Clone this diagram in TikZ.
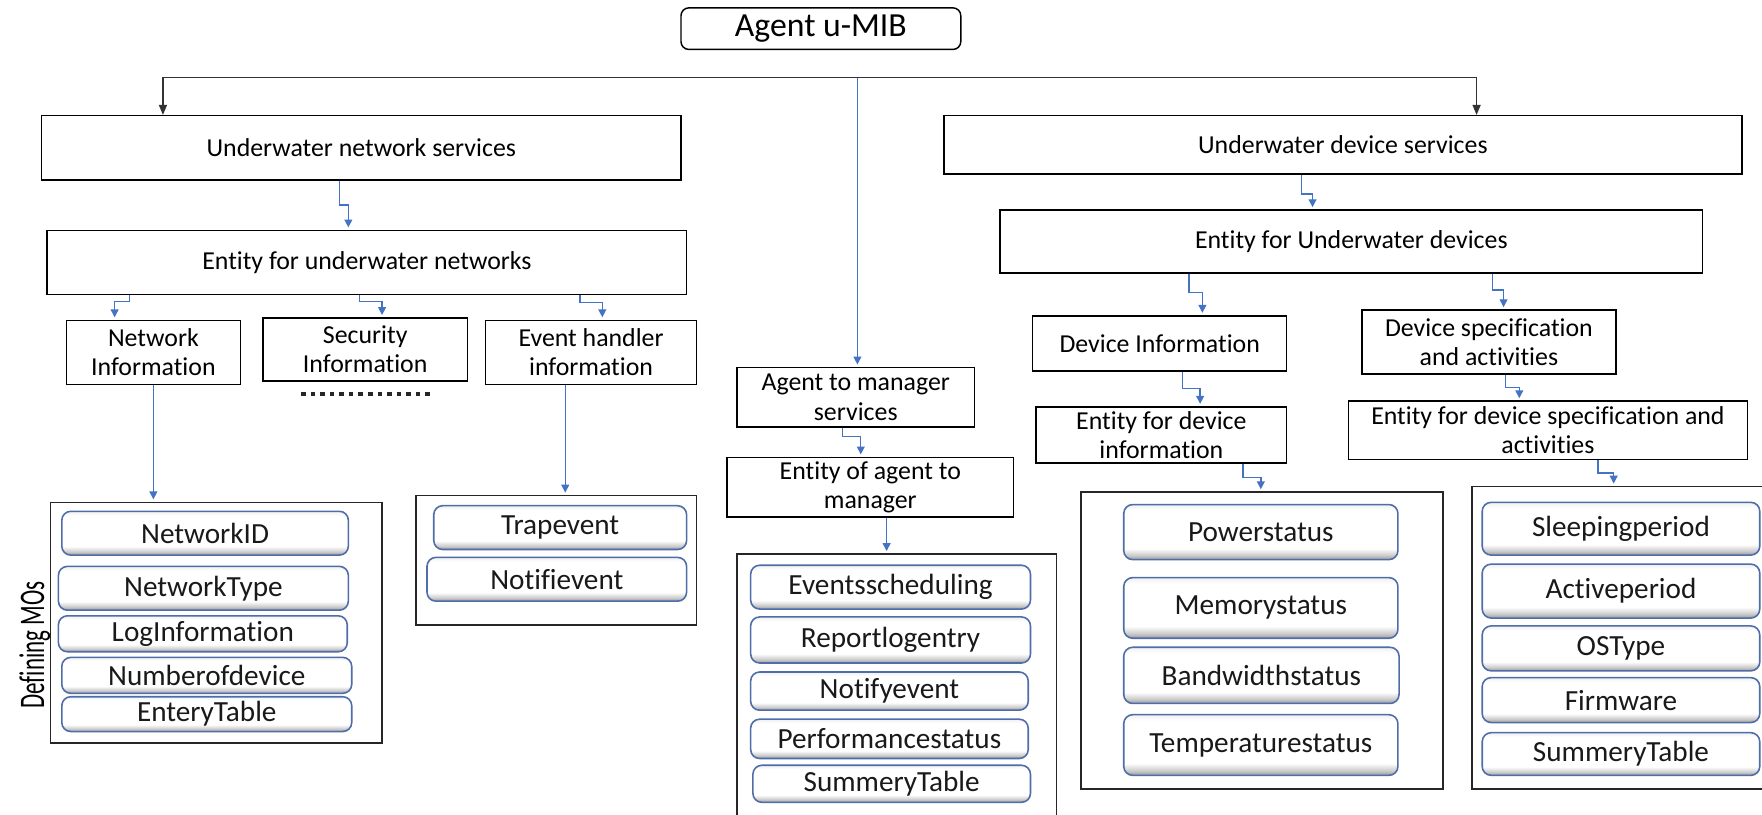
\documentclass[tikz,border=0pt]{standalone}
\usepackage{fontspec}
\setmainfont{Carlito}[Ligatures=NoCommon]
\usetikzlibrary{arrows.meta,calc}
\definecolor{lblue}{HTML}{4472C4}
\definecolor{iborder}{HTML}{4F6DA8}
\pgfdeclareverticalshading{itemshade}{100bp}{color(0bp)=(gray!80); color(25bp)=(gray!80); color(29bp)=(gray!40); color(35bp)=(white); color(70bp)=(white); color(75bp)=(gray!12); color(100bp)=(gray!12)}
\newcommand\mkbox[7]{\node[#6, minimum width={(#4)-(#2)}, minimum height={(#5)-(#3)}] (#1) at ({((#2)+(#4))/2},{((#3)+(#5))/2}) {#7};}
\begin{document}
\begin{tikzpicture}[x=1pt,y=-1pt,
 box/.style={draw=black, line width=1.3pt, inner sep=0pt, align=center, font=\fontsize{23}{26}\selectfont},
 titlebox/.style={box, rounded corners=7pt, font=\fontsize{30}{34}\selectfont},
 cont/.style={draw=black!85, line width=1.3pt, inner sep=0pt},
 item/.style={draw=iborder, line width=1.4pt, rounded corners=8pt, inner sep=0pt, shade, shading=itemshade, text=black!90, font=\fontsize{26}{30}\selectfont},
 barrow/.style={draw=lblue, line width=1.2pt, -{Triangle[width=7pt,length=7pt]}, shorten >=2pt},
 karrow/.style={draw=black!80, line width=1.6pt, -{Triangle[width=7pt,length=9pt]}},
 elbow/.style={to path={|- ($(\tikztostart)!#1!(\tikztotarget)$) -| (\tikztotarget) \tikztonodes}},
 elbow/.default=0.5]
\fill[white] (0,0) rectangle (1568,725);
\useasboundingbox (0,0) rectangle (1568,725);

% main boxes
\mkbox{title}{606}{7}{855}{44}{titlebox}{Agent u-MIB}
\mkbox{uns}{37}{103}{606}{160}{box}{Underwater network services}
\mkbox{eun}{42}{205}{611}{262}{box}{Entity for underwater networks}
\mkbox{ni}{59}{285}{214}{342}{box}{Network\\Information}
\mkbox{si}{234}{283}{416}{339}{box}{Security\\Information}
\mkbox{ehi}{432}{285}{620}{342}{box}{Event handler\\information}
\mkbox{lc}{45}{447}{340}{661}{cont}{}
\mkbox{ec}{370}{441}{620}{556}{cont}{}
\mkbox{atm}{656}{327}{867}{380}{box}{Agent to manager\\services}
\mkbox{eatm}{647}{407}{902}{460}{box}{Entity of agent to\\manager}
\mkbox{mc}{656}{493}{940}{740}{cont}{}
\mkbox{uds}{840}{103}{1550}{155}{box}{Underwater device services}
\mkbox{eud}{890}{187}{1515}{243}{box}{Entity for Underwater devices}
\mkbox{di}{919}{281}{1145}{330}{box}{Device Information}
\mkbox{dsa}{1212}{276}{1438}{333}{box}{Device specification\\and activities}
\mkbox{edi}{922}{362}{1145}{412}{box}{Entity for device\\information}
\mkbox{edsa}{1200}{357}{1555}{409}{box}{Entity for device specification and\\activities}
\mkbox{dc}{962}{438}{1284}{702}{cont}{}
\mkbox{sc}{1310}{433}{1590}{702}{cont}{}

% items
\mkbox{i1}{55}{455}{310}{494}{item}{NetworkID}
\mkbox{i2}{52}{504}{310}{543}{item}{NetworkType}
\mkbox{i3}{52}{548}{309}{580}{item}{LogInformation}
\mkbox{i4}{55}{585}{313}{617}{item}{Numberofdevice}
\mkbox{i5}{55}{620}{313}{651}{item}{EnteryTable}
\mkbox{i6}{386}{450}{611}{489}{item}{Trapevent}
\mkbox{i7}{380}{496}{611}{535}{item}{Notifievent}
\mkbox{i8}{668}{503}{917}{542}{item}{Eventsscheduling}
\mkbox{i9}{668}{549}{917}{590}{item}{Reportlogentry}
\mkbox{i10}{668}{598}{915}{632}{item}{Notifyevent}
\mkbox{i11}{668}{640}{915}{675}{item}{Performancestatus}
\mkbox{i12}{670}{681}{917}{714}{item}{SummeryTable}
\mkbox{i13}{1000}{449}{1244}{498}{item}{Powerstatus}
\mkbox{i14}{1000}{514}{1244}{568}{item}{Memorystatus}
\mkbox{i15}{1000}{576}{1245}{626}{item}{Bandwidthstatus}
\mkbox{i16}{1000}{636}{1244}{690}{item}{Temperaturestatus}
\mkbox{i17}{1319}{447}{1566}{494}{item}{Sleepingperiod}
\mkbox{i18}{1319}{502}{1566}{550}{item}{Activeperiod}
\mkbox{i19}{1319}{557}{1566}{597}{item}{OSType}
\mkbox{i20}{1319}{603}{1566}{643}{item}{Firmware}
\mkbox{i21}{1319}{652}{1566}{690}{item}{SummeryTable}

\node[rotate=90, inner sep=0pt, font=\fontsize{32}{34}\selectfont] (dmo) at (31,574) {\scalebox{0.64}[1]{Defining MOs}};

% dotted line under Security Information
\draw[line width=4pt, dash pattern=on 4pt off 4.5pt, black!85] ([xshift=-57pt,yshift=-11pt]si.south) -- ([xshift=61pt,yshift=-11pt]si.south);

% top distribution
\coordinate (hub) at (763,69);
\coordinate (lin) at ([xshift=-176.5pt]uns.north);
\coordinate (rin) at ([xshift=119pt]uds.north);
\draw[karrow] (hub) -| (lin);
\draw[karrow] (hub) -| (rin);
\draw[barrow] (hub) -- (hub |- atm.north);

% elbow connectors
\coordinate (a1) at ([xshift=-19.5pt]uns.south);  \coordinate (b1) at ([xshift=-16.5pt]eun.north);
\coordinate (a2) at ([xshift=-211.5pt]eun.south); \coordinate (b2) at ([xshift=-34.5pt]ni.north);
\coordinate (a3) at ([xshift=-6.5pt]eun.south);   \coordinate (b3) at ([xshift=15pt]si.north);
\coordinate (a4) at ([xshift=189.5pt]eun.south);  \coordinate (b4) at ([xshift=10pt]ehi.north);
\coordinate (a5) at ([xshift=-11.5pt]atm.south);  \coordinate (b5) at ([xshift=-8.5pt]eatm.north);
\coordinate (a6) at ([xshift=-37pt]uds.south);    \coordinate (b6) at ([xshift=-34.5pt]eud.north);
\coordinate (a7) at ([xshift=-144.5pt]eud.south); \coordinate (b7) at ([xshift=38pt]di.north);
\coordinate (a8) at ([xshift=125.5pt]eud.south);  \coordinate (b8) at ([xshift=13pt]dsa.north);
\coordinate (a9) at ([xshift=20pt]di.south);      \coordinate (b9) at ([xshift=34.5pt]edi.north);
\coordinate (a10) at ([xshift=15pt]dsa.south);    \coordinate (b10) at ([xshift=-25.5pt]edsa.north);
\coordinate (a11) at ([xshift=72.5pt]edi.south);  \coordinate (b11) at ([xshift=-1pt]dc.north);
\coordinate (a12) at ([xshift=44.5pt]edsa.south); \coordinate (b12) at ([xshift=-14pt]sc.north);
\draw[barrow] (a1) to[elbow=0.5] (b1);
\draw[barrow] (a2) to[elbow=0.25] (b2);
\draw[barrow] (a3) to[elbow=0.3] (b3);
\draw[barrow] (a4) to[elbow=0.3] (b4);
\draw[barrow] (a5) to[elbow=0.3] (b5);
\draw[barrow] (a6) to[elbow=0.55] (b6);
\draw[barrow] (a7) to[elbow=0.45] (b7);
\draw[barrow] (a8) to[elbow=0.45] (b8);
\draw[barrow] (a9) to[elbow=0.5] (b9);
\draw[barrow] (a10) to[elbow=0.5] (b10);
\draw[barrow] (a11) to[elbow=0.5] (b11);
\draw[barrow] (a12) to[elbow=0.5] (b12);

% straight connectors
\coordinate (s2) at ([xshift=-23pt]ehi.south);
\coordinate (s3) at ([xshift=14.5pt]eatm.south);
\draw[barrow] (ni.south) -- (ni.south |- lc.north);
\draw[barrow] (s2) -- (s2 |- ec.north);
\draw[barrow] (s3) -- (s3 |- mc.north);
\end{tikzpicture}
\end{document}
